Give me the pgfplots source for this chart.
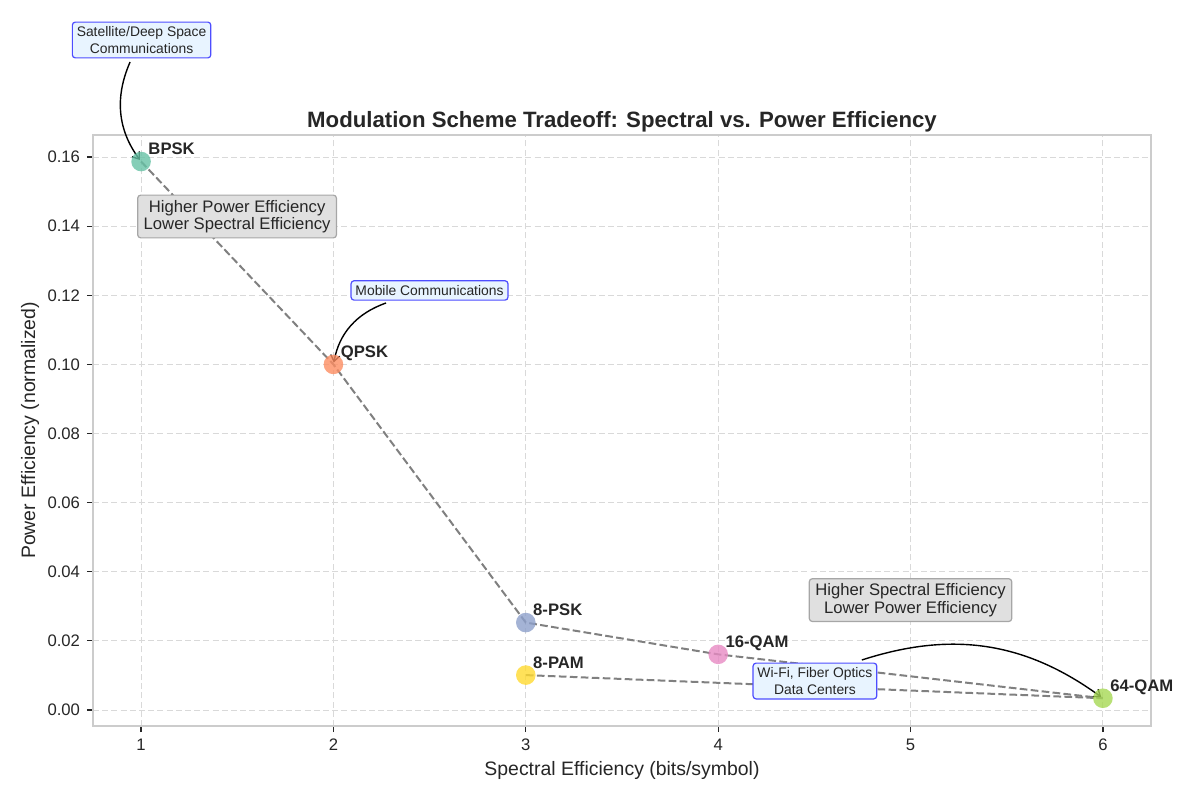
\documentclass[border=0pt]{standalone}
\usepackage{pgfplots}
\pgfplotsset{compat=1.18}
\usepackage{fontspec}
\setmainfont{Liberation Sans}
\usetikzlibrary{arrows.meta}

\definecolor{txt}{HTML}{262626}
\definecolor{framec}{HTML}{CCCCCC}
\definecolor{gridc}{HTML}{D9D9D9}
\definecolor{linec}{HTML}{808080}
\definecolor{cBPSK}{HTML}{66C2A5}
\definecolor{cQPSK}{HTML}{FC8D62}
\definecolor{cPSK}{HTML}{8DA0CB}
\definecolor{cQAMs}{HTML}{E78AC3}
\definecolor{cQAMl}{HTML}{A6D854}
\definecolor{cPAM}{HTML}{FFD92F}
\definecolor{boxfill}{HTML}{E0E0E0}
\definecolor{boxedge}{HTML}{A6A6A6}
\definecolor{notefill}{HTML}{E8F4FF}
\definecolor{noteedge}{HTML}{4D4DFF}

\tikzset{
  ptlabel/.style={font=\fontsize{8.33}{10}\selectfont\bfseries, text=txt,
    text opacity=1, opacity=1},
  graybox/.style={draw=boxedge, fill=boxfill, rounded corners=1.5pt, line width=0.6pt,
    align=center, inner xsep=3pt, inner ysep=2.5pt, text=txt,
    font=\fontsize{8.33}{8.6}\selectfont},
  bluebox/.style={draw=noteedge, fill=notefill, rounded corners=1.5pt, line width=0.6pt,
    align=center, inner xsep=2.2pt, inner ysep=2.3pt, text=txt,
    font=\fontsize{6.94}{8.2}\selectfont},
  note arrow/.style={line width=0.7pt, -{Straight Barb[length=3pt,width=4.5pt]}, shorten >=1pt},
}
\pgfplotsset{
  scheme/.style={only marks, mark=*, mark size=4.9pt,
    mark options={fill=#1, fill opacity=0.8, draw opacity=0},
    every node near coord/.append style={ptlabel, anchor=base west, inner sep=0pt,
      xshift=3.5pt, yshift=3.5pt}},
}

\begin{document}
\begin{tikzpicture}
\path[use as bounding box] (-46.5pt,-37pt) rectangle (553.5pt,363pt);
\begin{axis}[
  at={(0pt,0pt)}, anchor=south west,
  scale only axis, width=529pt, height=295.5pt,
  xmin=0.75, xmax=6.25, ymin=-0.00463, ymax=0.16638,
  xtick={1,2,3,4,5,6},
  ytick={0,0.02,0.04,0.06,0.08,0.10,0.12,0.14,0.16},
  scaled y ticks=false,
  yticklabel style={/pgf/number format/fixed, /pgf/number format/fixed zerofill,
    /pgf/number format/precision=2},
  /pgf/number format/assume math mode=true,
  tick label style={font=\fontsize{8.33}{10}\selectfont, text=txt},
  tick align=outside, tick pos=left,
  major tick length=3pt,
  major tick style={txt, line width=0.6pt},
  axis line style={framec, line width=0.8pt},
  grid=major,
  major grid style={gridc, line width=0.5pt, dash pattern=on 3pt off 1.6pt},
  title={Modulation Scheme Tradeoff: Spectral vs. Power Efficiency},
  title style={font=\fontsize{11.1}{13}\selectfont\bfseries, text=txt,
    at={(axis description cs:0.5,0.9932)}, anchor=base},
  xlabel={Spectral Efficiency (bits/symbol)},
  xlabel style={font=\fontsize{9.72}{12}\selectfont, text=txt,
    at={(axis description cs:0.5,-0.0829)}, anchor=base},
  ylabel={Power Efficiency (normalized)},
  ylabel style={font=\fontsize{9.72}{12}\selectfont, text=txt,
    at={(axis description cs:-0.0548,0.5)}, anchor=base},
  clip=false,
]

% modulation schemes: spectral efficiency vs. normalized power efficiency
\addplot[scheme=cBPSK, nodes near coords={BPSK}]   coordinates {(1,0.1587)};
\addplot[scheme=cQPSK, nodes near coords={QPSK}]   coordinates {(2,0.1000)};
\addplot[scheme=cPSK,  nodes near coords={8-PSK}]  coordinates {(3,0.0253)};
\addplot[scheme=cQAMs, nodes near coords={16-QAM}] coordinates {(4,0.0161)};
\addplot[scheme=cQAMl, nodes near coords={64-QAM}] coordinates {(6,0.0034)};
\addplot[scheme=cPAM,  nodes near coords={8-PAM}]  coordinates {(3,0.0101)};

% tradeoff frontier
\addplot[linec, line width=1pt, dash pattern=on 3.85pt off 1.65pt, no marks]
  coordinates {(1,0.1587) (2,0.1000) (3,0.0253) (4,0.0161) (6,0.0034)};
\addplot[linec, line width=1pt, dash pattern=on 3.85pt off 1.65pt, no marks]
  coordinates {(3,0.0101) (6,0.0034)};

% region notes
\node[graybox] at (axis cs:1.499,0.1428) {Higher Power Efficiency\\Lower Spectral Efficiency};
\node[graybox] at (axis cs:5.0,0.0318) {Higher Spectral Efficiency\\Lower Power Efficiency};

% application notes
\draw[note arrow, bend right=30] (axis cs:0.9428,0.1875) to (axis cs:1,0.1587);
\node[bluebox] at (axis cs:1.0026,0.19387) {Satellite/Deep Space\\Communications};
\draw[note arrow, bend right=30] (axis cs:2.2734,0.11777) to (axis cs:2,0.1000);
\node[bluebox] at (axis cs:2.4995,0.1214) {Mobile Communications};
\draw[note arrow, bend left=27] (axis cs:4.747,0.01447) to (axis cs:6,0.0034);
\node[bluebox] at (axis cs:4.503,0.00839) {Wi-Fi, Fiber Optics\\Data Centers};

\end{axis}
\end{tikzpicture}
\end{document}
